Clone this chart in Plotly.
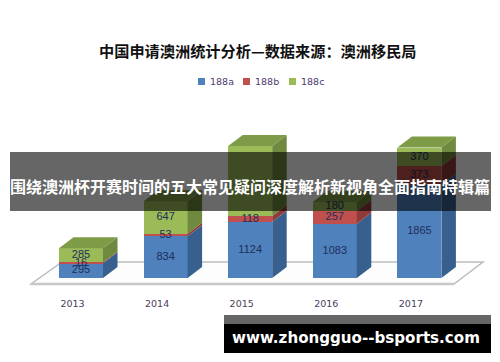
import plotly.graph_objects as go

years = ["2013", "2014", "2015", "2016", "2017"]
s188a = [295, 834, 1124, 1083, 1865]
s188b = [16, 53, 118, 257, 373]
s188c = [285, 647, 1398, 180, 370]
series = [
    ("188a", s188a, "#4F81BD", "#38608F", 208),
    ("188b", s188b, "#C0504D", "#8F3B39", 253),
    ("188c", s188c, "#9BBB59", "#6F8A3E", 299),
]
# index 2 of 188c lies under the banner, so its label is not drawn in the reference
hidden_labels = {("188c", 2)}
TOP_FACE = "#7E9C47"
title = "中国申请澳洲统计分析—数据来源\uff1a澳洲移民局"
banner = "围绕澳洲杯开赛时间的五大常见疑问深度解析新视角全面指南特辑篇"
site = "www.zhongguo--bsports.com"

W, H = 500, 362
ZERO_PX, UNIT_PX = 278, 0.05
X0_PX, STEP_PX = 81, 84.6
BAR = 0.52
DX = 14.5 / STEP_PX
DY = 11 / UNIT_PX


def px_x(p):
    return (p - X0_PX) / STEP_PX


def px_y(p):
    return (ZERO_PX - p) / UNIT_PX


def py(p):
    return 1 - p / H


xs = list(range(len(years)))
fig = go.Figure()

# front faces
for name, vals, front, side, lx in series:
    fig.add_trace(go.Bar(
        x=xs, y=vals, name=name, width=BAR, marker=dict(color=front, line=dict(width=0)),
        showlegend=False,
    ))

# side faces and data labels
base = [0] * len(years)
label_x, label_y, label_t = [], [], []
for name, vals, front, side, lx in series:
    for i, v in enumerate(vals):
        b, t = base[i], base[i] + v
        x1 = i + BAR / 2
        fig.add_trace(go.Scatter(
            x=[x1, x1, x1 + DX, x1 + DX, x1], y=[b, t, t + DY, b + DY, b],
            mode="lines", line=dict(width=0), fill="toself", fillcolor=side,
            showlegend=False, hoverinfo="skip"))
        if (name, i) not in hidden_labels:
            label_x.append(i)
            label_y.append((b + t) / 2)
            label_t.append(str(v))
        base[i] = t
# top faces
for i, t in enumerate(base):
    x0, x1 = i - BAR / 2, i + BAR / 2
    fig.add_trace(go.Scatter(
        x=[x0, x1, x1 + DX, x0 + DX, x0], y=[t, t, t + DY, t + DY, t],
        mode="lines", line=dict(width=0), fill="toself", fillcolor=TOP_FACE,
        showlegend=False, hoverinfo="skip"))

fig.add_trace(go.Scatter(
    x=label_x, y=label_y, text=label_t, mode="text", textposition="middle center",
    textfont=dict(family="Liberation Sans", size=11, color="#1F2D5A"),
    showlegend=False, hoverinfo="skip"))

floor_path = "M %f,%f L %f,%f L %f,%f L %f,%f Z" % (
    px_x(31), px_y(284), px_x(454), px_y(284), px_x(483), px_y(262), px_x(62), px_y(262))

shapes = [
    dict(type="path", path=floor_path, xref="x", yref="y", layer="below",
         line=dict(color="#BDBDBD", width=1.5), fillcolor="#FDFDFD"),
    dict(type="line", xref="x", yref="y", layer="below", x0=px_x(31), x1=px_x(454), y0=px_y(284), y1=px_y(284),
         line=dict(color="#C8C8C8", width=2.5)),
    dict(type="rect", xref="paper", yref="paper", layer="above", line_width=0,
         x0=10 / W, x1=491 / W, y0=py(211), y1=py(152), fillcolor="rgba(0,0,0,0.6)"),
    dict(type="rect", xref="paper", yref="paper", layer="above", line_width=0,
         x0=224 / W, x1=491 / W, y0=py(324), y1=py(315), fillcolor="rgba(0,0,0,0.6)"),
    dict(type="rect", xref="paper", yref="paper", layer="above", line_width=0,
         x0=224 / W, x1=491 / W, y0=py(353), y1=py(324), fillcolor="#000000"),
]
annotations = [
    dict(text="<b>" + title + "</b>", x=258 / W, y=py(50), xref="paper", yref="paper", showarrow=False,
         xanchor="center", yanchor="middle",
         font=dict(family="Noto Sans CJK SC", size=15.2, color="#111111")),
    dict(text="<b>" + banner + "</b>", x=250 / W, y=py(186), xref="paper", yref="paper", showarrow=False,
         xanchor="center", yanchor="middle",
         font=dict(family="Noto Sans CJK SC", size=16, color="white")),
    dict(text="<b>" + site + "</b>", x=356 / W, y=py(337.5), xref="paper", yref="paper", showarrow=False,
         xanchor="center", yanchor="middle",
         font=dict(family="DejaVu Sans", size=15.1, color="white")),
]
for name, vals, front, side, lx in series:
    shapes.append(dict(type="rect", xref="paper", yref="paper", line_width=0, fillcolor=front,
                       x0=(lx - 10) / W, x1=(lx - 3) / W, y0=py(85), y1=py(78)))
    annotations.append(dict(text=name, x=lx / W, y=py(82), xref="paper", yref="paper", showarrow=False,
                            xanchor="left", yanchor="middle",
                            font=dict(family="DejaVu Sans", size=9.5, color="#4B3A6E")))

fig.update_layout(
    width=W, height=H, autosize=False,
    margin=dict(l=0, r=0, t=0, b=0, pad=0),
    paper_bgcolor="white", plot_bgcolor="rgba(0,0,0,0)",
    barmode="stack", bargap=0,
    font=dict(family="Liberation Sans"),
    xaxis=dict(range=[px_x(0), px_x(W)], tickmode="array", tickvals=[x - 8.5 / STEP_PX for x in xs], ticktext=years,
               anchor="free", position=py(291),
               showgrid=False, zeroline=False, showline=False, ticks="outside", ticklen=4, tickcolor="rgba(0,0,0,0)",
               tickfont=dict(family="DejaVu Sans", size=9.5, color="#4A3D5C")),
    yaxis=dict(range=[px_y(H), px_y(0)], visible=False, showgrid=False, zeroline=False),
    showlegend=False,
    shapes=shapes,
    annotations=annotations,
)
fig.write_html("out.html", config={"displayModeBar": False},
               post_script="document.body.style.margin='0';document.body.style.overflow='hidden';")
